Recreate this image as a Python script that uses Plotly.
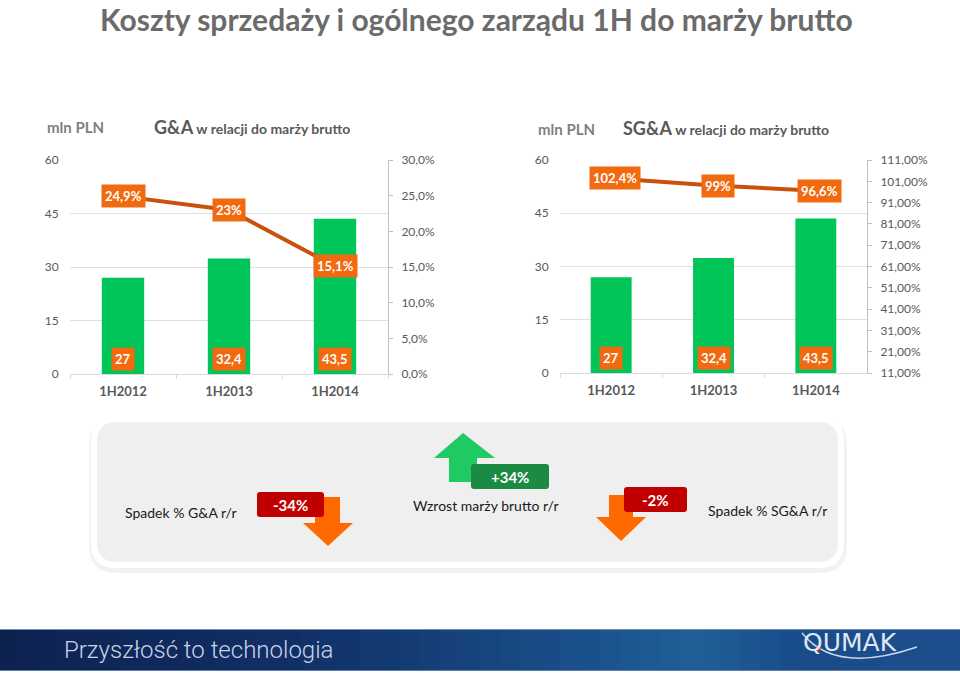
import plotly.graph_objects as go

# ---------------- data ----------------
categories = ["1H2012", "1H2013", "1H2014"]
ga_values = [27, 32.4, 43.5]
ga_labels = ["27", "32,4", "43,5"]
ga_ratio = [0.249, 0.23, 0.151]
ga_ratio_labels = ["24,9%", "23%", "15,1%"]
sga_values = [27, 32.4, 43.5]
sga_labels = ["27", "32,4", "43,5"]
sga_ratio = [1.024, 0.99, 0.966]
sga_ratio_labels = ["102,4%", "99%", "96,6%"]

W, H = 960, 676
def px(x): return x / W
def py(y): return 1 - y / H

FONT = "Lato"
GRAY = "#595959"
BAR = "#00c65a"
LINE = "#c8520c"
BOX = "#f26a10"

fig = go.Figure()

fig.add_trace(go.Bar(x=categories, y=ga_values, marker_color=BAR, width=0.4,
                     xaxis="x", yaxis="y", showlegend=False, hoverinfo="skip"))
fig.add_trace(go.Scatter(x=categories, y=ga_ratio, mode="lines", line=dict(color=LINE, width=4),
                         xaxis="x", yaxis="y2", showlegend=False, hoverinfo="skip"))
fig.add_trace(go.Bar(x=categories, y=sga_values, marker_color=BAR, width=0.4,
                     xaxis="x2", yaxis="y3", showlegend=False, hoverinfo="skip"))
fig.add_trace(go.Scatter(x=categories, y=sga_ratio, mode="lines", line=dict(color=LINE, width=4),
                         xaxis="x2", yaxis="y4", showlegend=False, hoverinfo="skip"))

tickfont = dict(family=FONT, size=12, color=GRAY)
xcommon = dict(type="category", range=[-0.5, 2.5], showline=True, linecolor="#d9d9d9",
               ticks="outside", tickson="boundaries", ticklen=4, tickcolor="#d9d9d9",
               showgrid=False, zeroline=False, automargin=False, ticklabelstandoff=5,
               tickfont=dict(family=FONT, size=13, color=GRAY, weight="bold"), fixedrange=True)
yleft = dict(range=[0, 60], dtick=15, showgrid=True, gridcolor="#e0e0e0", gridwidth=1,
             zeroline=False, automargin=False, fixedrange=True,
             showline=False, ticks="outside", ticklen=8, tickcolor="rgba(0,0,0,0)",
             tickfont=tickfont)
yright = dict(side="right", showgrid=False, zeroline=False, showline=True, automargin=False,
              linecolor="#bfbfbf", ticks="outside", ticklen=4, tickcolor="#bfbfbf",
              tickfont=tickfont, ticklabelstandoff=6, fixedrange=True)

fig.update_layout(
    template="none",
    width=W, height=H, margin=dict(l=0, r=0, t=0, b=0, pad=0), autosize=False,
    paper_bgcolor="white", plot_bgcolor="rgba(0,0,0,0)",
    separators=", ",
    xaxis=dict(domain=[px(70), px(388)], anchor="y", **xcommon),
    yaxis=dict(domain=[py(374), py(160)], anchor="x", **yleft),
    yaxis2=dict(yright, overlaying="y", anchor="x", range=[0, 0.30], dtick=0.05, tickformat=".1%"),
    xaxis2=dict(domain=[px(560), px(867)], anchor="y3", **xcommon),
    yaxis3=dict(domain=[py(373), py(160)], anchor="x2", **yleft),
    yaxis4=dict(yright, overlaying="y3", anchor="x2", range=[0.11, 1.11], tick0=0.11, dtick=0.1,
                tickformat=".2%"),
)

ann = []
def A(text, x, y, font, **kw):
    d = dict(text=text, x=px(x), y=py(y), xref="paper", yref="paper", showarrow=False,
             xanchor="center", yanchor="middle", font=font)
    d.update(kw)
    ann.append(d)

A("Koszty sprzedaży i ogólnego zarządu 1H do marży brutto", 476, 19,
  dict(family=FONT, size=30, color="#6b6b6b", weight="bold"))
A("mln PLN", 75, 127, dict(family=FONT, size=15, color="#7f7f7f", weight="bold"))
A("mln PLN", 566, 129, dict(family=FONT, size=15, color="#7f7f7f", weight="bold"))
A("<span style='font-size:18px'>G&A</span> w relacji do marży brutto", 252, 127,
  dict(family=FONT, size=14, color=GRAY, weight="bold"))
A("<span style='font-size:18px'>SG&A</span> w relacji do marży brutto", 726, 128,
  dict(family=FONT, size=14, color=GRAY, weight="bold"))

lblfont = dict(family=FONT, size=13, color="white", weight="bold")
for c, v, t in zip(categories, ga_ratio, ga_ratio_labels):
    ann.append(dict(text=t, x=c, y=v, xref="x", yref="y2", showarrow=False, bgcolor=BOX,
                    xanchor="center", yanchor="middle", borderpad=3, font=lblfont))
for c, t in zip(categories, ga_labels):
    ann.append(dict(text=t, x=c, y=0, xref="x", yref="y", xanchor="center", yanchor="bottom",
                    yshift=3, showarrow=False, bgcolor=BOX, borderpad=3, font=lblfont))
for c, v, t in zip(categories, sga_ratio, sga_ratio_labels):
    ann.append(dict(text=t, x=c, y=v, xref="x2", yref="y4", showarrow=False, bgcolor=BOX,
                    xanchor="center", yanchor="middle", borderpad=3, xshift=4, font=lblfont))
for c, t in zip(categories, sga_labels):
    ann.append(dict(text=t, x=c, y=0, xref="x2", yref="y3", xanchor="center", yanchor="bottom",
                    yshift=3, showarrow=False, bgcolor=BOX, borderpad=3, font=lblfont))

# ---------------- bottom panel ----------------
def rrect(x0, y0, x1, y1, r):
    pts = [
        f"M {px(x0 + r)} {py(y0)}", f"L {px(x1 - r)} {py(y0)}",
        f"Q {px(x1)} {py(y0)} {px(x1)} {py(y0 + r)}", f"L {px(x1)} {py(y1 - r)}",
        f"Q {px(x1)} {py(y1)} {px(x1 - r)} {py(y1)}", f"L {px(x0 + r)} {py(y1)}",
        f"Q {px(x0)} {py(y1)} {px(x0)} {py(y1 - r)}", f"L {px(x0)} {py(y0 + r)}",
        f"Q {px(x0)} {py(y0)} {px(x0 + r)} {py(y0)}", "Z"]
    return " ".join(pts)

def poly(points):
    return "M " + " L ".join(f"{px(x)} {py(y)}" for x, y in points) + " Z"

shapes = []
def S(path, color, layer="above"):
    shapes.append(dict(type="path", path=path, fillcolor=color, line=dict(width=0),
                       xref="paper", yref="paper", layer=layer))

S(rrect(89, 418, 847, 573, 27), "rgba(0,0,0,0.05)", "below")
S(rrect(91, 416, 844, 568, 25), "white", "below")
S(rrect(97, 422, 838, 562, 20), "#efefef", "below")

green_arrow = [(463, 433), (495, 458), (477, 458), (477, 482), (449, 482), (449, 458), (434, 458)]
left_down = [(315, 497), (340, 497), (340, 523), (353, 523), (328, 546), (303, 523), (315, 523)]
right_down = [(609, 495), (633, 495), (633, 517), (646, 517), (621, 541), (596, 517), (609, 517)]
S(poly(green_arrow), "#1fca62")
S(poly(left_down), "#ff6a00")
S(poly(right_down), "#ff6a00")
S(rrect(471, 464, 549, 489, 3), "#1b8a42")
S(rrect(257, 492, 324, 517, 3), "#c00000")
S(rrect(624, 487, 687, 512, 3), "#c00000")

boxfont = dict(family=FONT, size=15, color="white", weight="bold")
A("+34%", 510, 477, boxfont)
A("-34%", 290.5, 505, boxfont)
A("-2%", 655.5, 500, boxfont)
txtfont = dict(family=FONT, size=14, color="#1a1a1a")
A("Spadek % G&A r/r", 181, 512, txtfont)
A("Wzrost marży brutto r/r", 485, 505, txtfont)
A("Spadek % SG&A r/r", 767, 510, txtfont)

# ---------------- footer ----------------
grad = [(0, (14, 34, 80)), (300, (18, 48, 104)), (560, (26, 78, 136)), (700, (32, 96, 152)),
        (800, (26, 76, 138)), (960, (30, 78, 142))]
N = 48
for i in range(N):
    x0 = i * W / N
    x1 = (i + 1) * W / N + 0.5
    xm = (x0 + x1) / 2
    col = grad[-1][1]
    for (a, ca), (b, cb) in zip(grad[:-1], grad[1:]):
        if a <= xm <= b:
            f = (xm - a) / (b - a)
            col = tuple(int(ca[k] + (cb[k] - ca[k]) * f) for k in range(3))
            break
    shapes.append(dict(type="rect", x0=px(x0), x1=px(x1), y0=py(671), y1=py(629),
                       fillcolor=f"rgb{col}", line=dict(width=0), xref="paper", yref="paper"))
shapes.append(dict(type="line", x0=0, x1=1, y0=py(629.5), y1=py(629.5), xref="paper", yref="paper",
                   line=dict(color="#6f8fb8", width=1)))
shapes.append(dict(type="line", x0=0, x1=1, y0=py(670.5), y1=py(670.5), xref="paper", yref="paper",
                   line=dict(color="#5a7fae", width=1)))
shapes.append(dict(type="path",
                   path=f"M {px(802)} {py(633)} Q {px(835)} {py(675)} {px(917)} {py(647)}",
                   line=dict(color="#c9d6ea", width=1.5), xref="paper", yref="paper"))
shapes.append(dict(type="circle", x0=px(815.5), x1=px(820.5), y0=py(651.5), y1=py(646.5),
                   fillcolor="#e02020", line=dict(width=0), xref="paper", yref="paper"))

A("Przyszłość to technologia", 62, 650,
  dict(family="Roboto", size=24, color="#c9d4e6", weight=300), xanchor="left")
A("QUMAK", 850, 642, dict(family="DejaVu Sans", size=25, color="#dfe7f3"))

fig.update_layout(annotations=ann, shapes=shapes)
fig.write_html("out.html", config={"displayModeBar": False, "staticPlot": True},
               post_script="document.body.style.margin='0';document.body.style.overflow='hidden';")
